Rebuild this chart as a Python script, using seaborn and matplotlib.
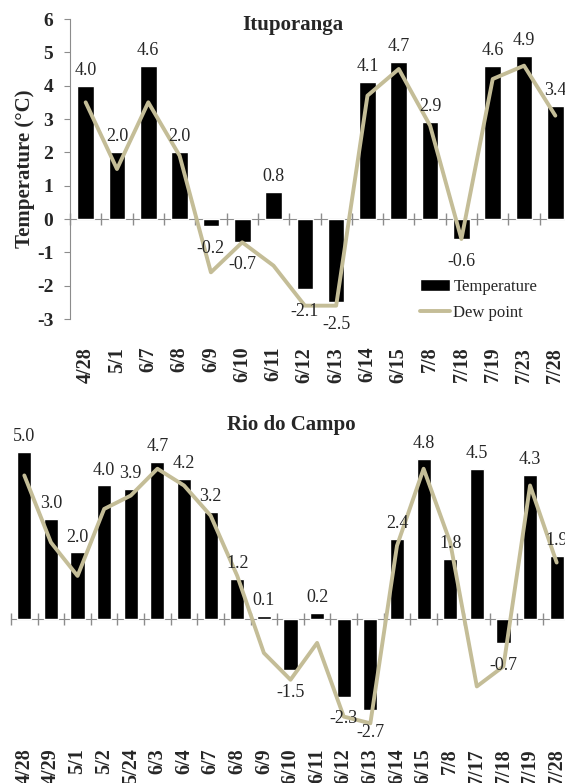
import numpy as np
import pandas as pd
import seaborn as sns
import matplotlib.pyplot as plt

# Ituporanga
itu_dates = ["4/28", "5/1", "6/7", "6/8", "6/9", "6/10", "6/11", "6/12",
             "6/13", "6/14", "6/15", "7/8", "7/18", "7/19", "7/23", "7/28"]
itu_temp = [4.0, 2.0, 4.6, 2.0, -0.2, -0.7, 0.8, -2.1,
            -2.5, 4.1, 4.7, 2.9, -0.6, 4.6, 4.9, 3.4]
itu_dew = [3.5, 1.5, 3.5, 1.9, -1.6, -0.7, -1.4, -2.6,
           -2.6, 3.7, 4.5, 2.8, -0.6, 4.2, 4.6, 3.1]

# Rio do Campo
rio_dates = ["4/28", "4/29", "5/1", "5/2", "5/24", "6/3", "6/4", "6/7", "6/8",
             "6/9", "6/10", "6/11", "6/12", "6/13", "6/14", "6/15", "7/8",
             "7/17", "7/18", "7/19", "7/28"]
rio_temp = [5.0, 3.0, 2.0, 4.0, 3.9, 4.7, 4.2, 3.2, 1.2,
            0.1, -1.5, 0.2, -2.3, -2.7, 2.4, 4.8, 1.8,
            4.5, -0.7, 4.3, 1.9]
rio_dew = [4.3, 2.3, 1.3, 3.3, 3.7, 4.5, 4.0, 3.1, 1.3,
           -1.0, -1.8, -0.7, -2.9, -3.1, 2.2, 4.5, 2.3,
           -2.0, -1.4, 4.0, 1.7]

sns.set_style("white")
plt.rcParams['font.family'] = ['Liberation Serif', 'DejaVu Serif']
plt.rcParams['axes.unicode_minus'] = False

W, H = 565, 783
DEW_COLOR = "#C4BD97"
GRAY = "#8C8C8C"


def draw_panel(ax, dates, temp, dew, ymin, label_pad, show_yaxis):
    n = len(dates)
    df = pd.DataFrame({"date": dates, "temp": temp, "dew": dew})
    sns.barplot(data=df, x="date", y="temp", color="black", saturation=1,
                width=0.53, ax=ax, label="Temperature")
    sns.lineplot(x=np.arange(n), y=df["dew"], color=DEW_COLOR, linewidth=2.8,
                 ax=ax, label="Dew point")
    ax.set_xlim(-0.5, n - 0.5)
    ax.set_ylim(ymin, 6)
    ax.set_xlabel("")
    ax.set_ylabel("")

    # value labels
    for i, v in enumerate(temp):
        if v >= 0:
            ax.annotate(f"{v:.1f}", (i, v), xytext=(0, 5), textcoords="offset points",
                        ha="center", va="bottom", fontsize=13)
        else:
            ax.annotate(f"{v:.1f}", (i, v), xytext=(0, -10), textcoords="offset points",
                        ha="center", va="top", fontsize=13)

    # x labels at the bottom, rotated
    ax.tick_params(axis="x", length=0, pad=label_pad)
    for lab in ax.get_xticklabels():
        lab.set_rotation(90)
        lab.set_fontweight("bold")
        lab.set_fontsize(14.5)
        lab.set_va("top")

    # zero line with boundary ticks
    zero = ax.secondary_xaxis(-ymin / (6 - ymin))
    zero.set_xticks(np.arange(-0.5, n, 1))
    zero.set_xticklabels([])
    zero.tick_params(direction="inout", length=8, color=GRAY, width=1)
    zero.spines["bottom"].set_color(GRAY)
    for s in ["top", "left", "right"]:
        zero.spines[s].set_visible(False)

    for s in ["top", "right", "bottom"]:
        ax.spines[s].set_visible(False)
    if show_yaxis:
        ax.spines["left"].set_color(GRAY)
        ax.set_yticks(range(-3, 7))
        ax.tick_params(axis="y", left=True, direction="out", length=4, color=GRAY, pad=8)
        for lab in ax.get_yticklabels():
            lab.set_fontweight("bold")
            lab.set_fontsize(14)
    else:
        ax.spines["left"].set_visible(False)
        ax.set_yticks([])
    ax.get_legend().remove()


fig = plt.figure(figsize=(W / 100, H / 100), dpi=100)

ax1 = fig.add_axes([70 / W, 1 - 319 / H, 501 / W, 300 / H])
draw_panel(ax1, itu_dates, itu_temp, itu_dew, -3, 20, True)
fig.text(25 / W, 1 - 169 / H, "Temperature (°C)", rotation=90, ha="center", va="center",
         fontsize=15, fontweight="bold")
handles, labels = ax1.get_legend_handles_labels()
order = [labels.index("Temperature"), labels.index("Dew point")]
ax1.legend([handles[i] for i in order], [labels[i] for i in order],
           loc="upper left", bbox_to_anchor=(420 / W, 1 - 279 / H),
           bbox_transform=fig.transFigure, frameon=False, fontsize=12,
           handlelength=1.8, handletextpad=0.2, labelspacing=0.6,
           borderpad=0, borderaxespad=0)
fig.text(293 / W, 1 - 25 / H, "Ituporanga", ha="center", va="center",
         fontsize=15, fontweight="bold")

# y=0 at 619 px, about 33.5 px per degree
ax2 = fig.add_axes([11 / W, 1 - 730 / H, 559 / W, 311.5 / H])
draw_panel(ax2, rio_dates, rio_temp, rio_dew, -3.3, 13, False)
fig.text(291 / W, 1 - 425 / H, "Rio do Campo", ha="center", va="center",
         fontsize=15, fontweight="bold")

fig.savefig("out.png", dpi=100)
